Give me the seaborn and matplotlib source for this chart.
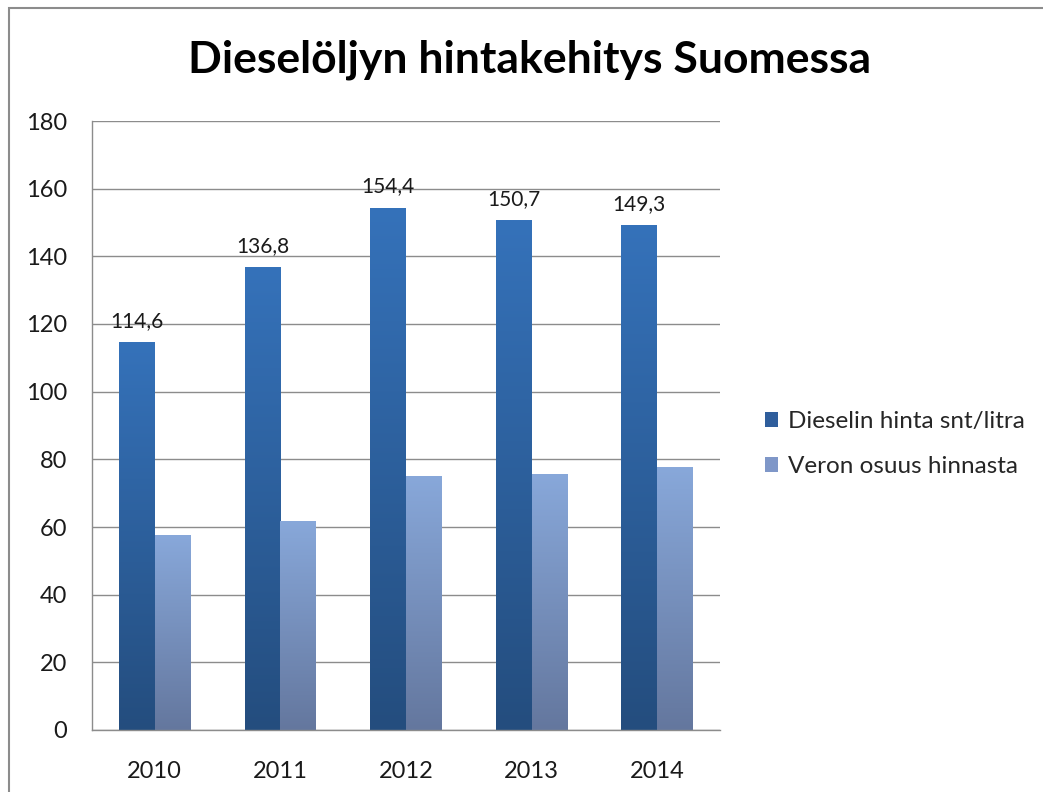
import numpy as np
import pandas as pd
import matplotlib
matplotlib.use("Agg")
import matplotlib.pyplot as plt
import seaborn as sns
from matplotlib.colors import LinearSegmentedColormap
from matplotlib.patches import Rectangle

# ----------------------------------------
# Data
# ----------------------------------------
years = ["2010", "2011", "2012", "2013", "2014"]
diesel_price = [114.6, 136.8, 154.4, 150.7, 149.3]
tax_share = [57.6, 61.8, 75.1, 75.7, 77.7]
series_names = ["Dieselin hinta snt/litra", "Veron osuus hinnasta"]

df = pd.DataFrame({
    "Vuosi": years * 2,
    "Arvo": diesel_price + tax_share,
    "Sarja": [series_names[0]] * len(years) + [series_names[1]] * len(years),
})

# ----------------------------------------
# Plot
# ----------------------------------------
sns.set_style("white")
plt.rcParams["font.family"] = ["Lato", "DejaVu Sans"]

fig = plt.figure(figsize=(10.43, 7.92), dpi=100)
ax = fig.add_axes([92 / 1043, 1 - 730 / 792, (720 - 92) / 1043, (730 - 121) / 792])

dark_top, dark_bot = "#3572BA", "#244D7E"
light_top, light_bot = "#88A8DA", "#64779E"

sns.barplot(
    data=df, x="Vuosi", y="Arvo", hue="Sarja",
    palette=[dark_top, light_top], width=0.57, gap=0,
    saturation=1, ax=ax, legend=True,
)

# gradient fill for the bars
gradients = {
    series_names[0]: LinearSegmentedColormap.from_list("d", [dark_bot, dark_top]),
    series_names[1]: LinearSegmentedColormap.from_list("l", [light_bot, light_top]),
}
grad = np.linspace(0, 1, 256).reshape(-1, 1)
for container, name in zip(ax.containers, series_names):
    for bar in container:
        x0, y0 = bar.get_x(), bar.get_y()
        w, h = bar.get_width(), bar.get_height()
        bar.set_facecolor("none")
        bar.set_edgecolor("none")
        im = ax.imshow(grad, extent=[x0, x0 + w, y0, y0 + h], origin="lower",
                       aspect="auto", cmap=gradients[name], zorder=2,
                       vmin=0, vmax=1)
        im.set_clip_path(bar)

# data labels for the price series
ax.bar_label(ax.containers[0], labels=[f"{v:.1f}".replace(".", ",") for v in diesel_price],
             padding=8, fontsize=15, color="#1a1a1a")

ax.set_xlim(-0.5, 4.5)
ax.set_ylim(0, 180)
ax.set_yticks(range(0, 181, 20))
ax.yaxis.grid(True, color="#8c8c8c", linewidth=1)
ax.set_axisbelow(True)
ax.set_xlabel("")
ax.set_ylabel("")
ax.tick_params(axis="both", labelsize=17, colors="#1a1a1a", length=0)
ax.tick_params(axis="y", pad=18)
ax.tick_params(axis="x", pad=22)
for side in ["top", "right"]:
    ax.spines[side].set_visible(False)
for side in ["left", "bottom"]:
    ax.spines[side].set_color("#8c8c8c")
    ax.spines[side].set_linewidth(1)

# legend
handles = [Rectangle((0, 0), 1, 1, facecolor="#2F5E9C", edgecolor="none"),
           Rectangle((0, 0), 1, 1, facecolor="#7F97C8", edgecolor="none")]
ax.legend(handles, series_names, loc="center left", bbox_to_anchor=(743 / 1043, 1 - 444 / 792),
          bbox_transform=fig.transFigure, frameon=False, fontsize=17.5,
          handlelength=0.55, handleheight=0.55, handletextpad=0.4, labelspacing=1.0)

fig.text(530 / 1043, 1 - 60 / 792, "Dieselöljyn hintakehitys Suomessa",
         ha="center", va="center", fontsize=32, fontweight="bold", color="black")

# outer chart border
fig.patches.append(Rectangle((9 / 1043, -0.1), 1.2, 1 - 8 / 792 + 0.1,
                             transform=fig.transFigure, fill=False,
                             edgecolor="#8c8c8c", linewidth=1.5))

fig.savefig("out.png", dpi=100)
